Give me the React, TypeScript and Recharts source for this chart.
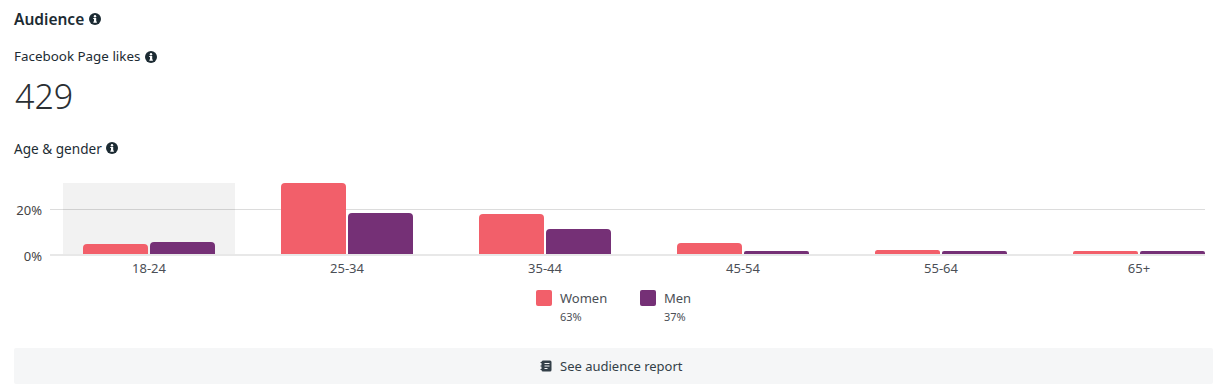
import { Bar, BarChart, CartesianGrid, Legend, ReferenceArea, XAxis, YAxis } from "recharts";

const ageGroups = ["18-24", "25-34", "35-44", "45-54", "55-64", "65+"];
const womenValues = [4.8, 31.65, 18, 5.3, 2.2, 1.8];
const menValues = [5.7, 18.5, 11.4, 1.8, 1.8, 1.8];
const yTicks = [0, 20];
const gridValues = [20];
const legendShares: Record<string, string> = { Women: "63%", Men: "37%" };

const chartData = ageGroups.map((age, i) => ({
  age,
  Women: womenValues[i],
  Men: menValues[i],
}));

const FONT = '"Noto Sans", sans-serif';
const DARK = "#1c2b33";

function InfoIcon({ x, y }: { x: number; y: number }) {
  return (
    <svg width="12" height="12" viewBox="0 0 12 12" style={{ position: "absolute", left: x, top: y }}>
      <circle cx="6" cy="6" r="6" fill={DARK} />
      <rect x="5" y="5" width="2.2" height="4.4" fill="#fff" />
      <rect x="4.2" y="8.6" width="3.8" height="1" fill="#fff" />
      <rect x="4.2" y="5" width="2" height="1" fill="#fff" />
      <circle cx="6" cy="3.2" r="1.2" fill="#fff" />
    </svg>
  );
}

function BookIcon({ x, y }: { x: number; y: number }) {
  return (
    <svg width="12" height="12" viewBox="0 0 12 12" style={{ position: "absolute", left: x, top: y }}>
      <rect x="1.5" y="0.5" width="10" height="11" rx="1.5" fill="#333f48" />
      <rect x="0.5" y="2" width="2.5" height="1" fill="#333f48" />
      <rect x="0.5" y="5.5" width="2.5" height="1" fill="#333f48" />
      <rect x="0.5" y="9" width="2.5" height="1" fill="#333f48" />
      <rect x="4.5" y="3" width="5" height="1" fill="#f5f6f7" />
      <rect x="4.5" y="5.5" width="5" height="1" fill="#f5f6f7" />
      <rect x="4.5" y="8" width="3" height="1" fill="#f5f6f7" />
    </svg>
  );
}

function Label({ x, y, size, weight = 400, color = DARK, children }: any) {
  return (
    <div
      style={{
        position: "absolute",
        left: x,
        top: y,
        fontSize: size,
        fontWeight: weight,
        color,
        lineHeight: 1,
        whiteSpace: "nowrap",
      }}
    >
      {children}
    </div>
  );
}

// translucent so the 20% gridline still shows through the hovered band
function HighlightShape(props: any) {
  const inset = 13;
  return (
    <rect
      x={props.x + inset}
      y={props.y}
      width={props.width - inset * 2}
      height={props.height}
      fill="rgba(0,0,0,0.05)"
    />
  );
}

function AudienceLegend({ payload }: any) {
  return (
    <div style={{ position: "relative", height: 40, fontFamily: FONT }}>
      {(payload || []).map((entry: any, i: number) => {
        const left = 536 + i * 104;
        return (
          <div key={entry.value}>
            <div
              style={{
                position: "absolute",
                left,
                top: 0,
                width: 16,
                height: 16,
                borderRadius: 2,
                background: entry.color,
              }}
            />
            <div style={{ position: "absolute", left: left + 24, top: 0, fontSize: 13, lineHeight: "16px", color: "#4b4f56" }}>
              {entry.value}
            </div>
            <div style={{ position: "absolute", left: left + 24, top: 21, fontSize: 11, lineHeight: "12px", color: "#4b4f56" }}>
              {legendShares[entry.value]}
            </div>
          </div>
        );
      })}
    </div>
  );
}

export default function App() {
  return (
    <div
      style={{
        position: "absolute",
        left: 0,
        top: 0,
        width: 1221,
        height: 388,
        background: "#fff",
        fontFamily: FONT,
        overflow: "hidden",
      }}
    >
      <Label x={14} y={12} size={15.5} weight={600}>Audience</Label>
      <InfoIcon x={89} y={13} />
      <Label x={14} y={50} size={13.4}>Facebook Page likes</Label>
      <InfoIcon x={145} y={51} />
      <Label x={15} y={79} size={34} weight={300} color="#2a2f33">429</Label>
      <Label x={14} y={142} size={13.6}>Age &amp; gender</Label>
      <InfoIcon x={106} y={142} />

      <div style={{ position: "absolute", left: 0, top: 170 }}>
        <BarChart
          width={1221}
          height={160}
          data={chartData}
          margin={{ top: 13, right: 16, bottom: 0, left: 0 }}
          barSize={65}
          barGap={2}
        >
          <ReferenceArea x1="18-24" x2="18-24" shape={HighlightShape} ifOverflow="visible" />
          <CartesianGrid vertical={false} stroke="#dcdcdc" horizontalValues={gridValues} />
          <XAxis
            dataKey="age"
            padding={{ left: 0, right: -33 }}
            axisLine={{ stroke: "#e8e8e8", strokeWidth: 2 }}
            tickLine={false}
            height={35}
            interval={0}
            tick={{ fill: "#4b4f56", fontSize: 13, fontFamily: FONT, dy: 1 }}
          />
          <YAxis
            width={50}
            domain={[0, 31.65]}
            ticks={yTicks}
            tickFormatter={(value: number) => `${value}%`}
            axisLine={false}
            tickLine={false}
            tick={{ fill: "#444", fontSize: 13, fontFamily: FONT, dy: 1 }}
          />
          <Legend
            verticalAlign="bottom"
            height={40}
            itemSorter={null}
            content={<AudienceLegend />}
            wrapperStyle={{ left: 0, width: 1221 }}
          />
          <Bar dataKey="Women" fill="#f25f6a" radius={[4, 4, 0, 0]} isAnimationActive={false} />
          <Bar dataKey="Men" fill="#753076" radius={[4, 4, 0, 0]} isAnimationActive={false} />
        </BarChart>
      </div>

      <div style={{ position: "absolute", left: 14, top: 348, width: 1199, height: 36, background: "#f5f6f7", borderRadius: 2 }} />
      <BookIcon x={540} y={360} />
      <Label x={560} y={360} size={13} color="#333f48">See audience report</Label>
    </div>
  );
}
